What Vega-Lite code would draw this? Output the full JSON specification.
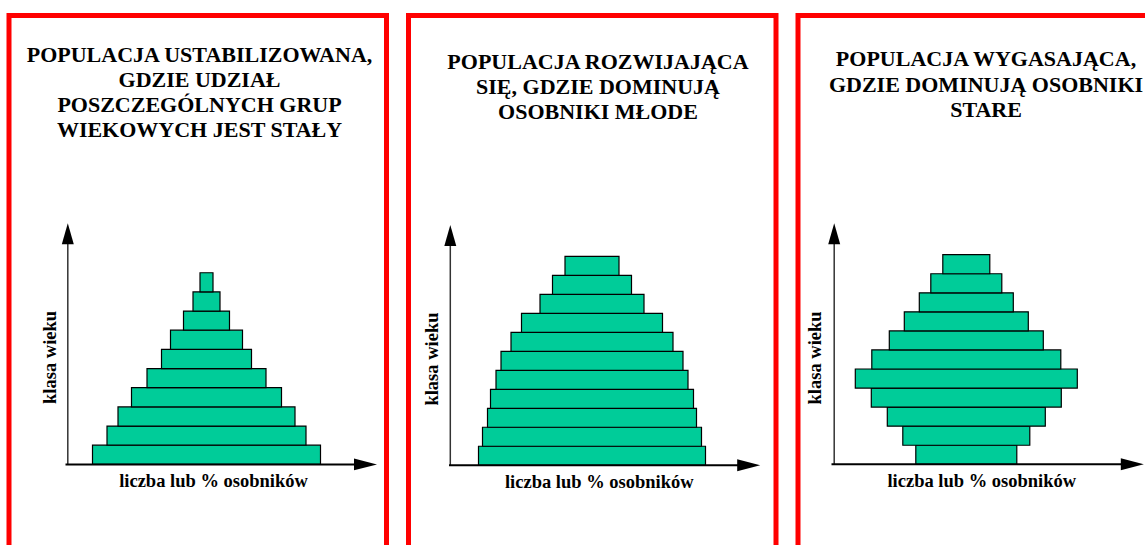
{
  "$schema": "https://vega.github.io/schema/vega-lite/v6.json",
  "background": "white",
  "padding": {"left": 6, "top": 12.5, "right": 0, "bottom": 0},
  "spacing": 16.5,
  "config": {
    "view": {"stroke": "#ff0000", "strokeWidth": 5, "fill": "white"},
    "axis": {"disable": true}
  },
  "datasets": {
    "ustabilizowana": [
      {"od": 0, "do": 1, "liczba": 228},
      {"od": 1, "do": 2, "liczba": 199},
      {"od": 2, "do": 3, "liczba": 177},
      {"od": 3, "do": 4, "liczba": 150},
      {"od": 4, "do": 5, "liczba": 119},
      {"od": 5, "do": 6, "liczba": 90},
      {"od": 6, "do": 7, "liczba": 72},
      {"od": 7, "do": 8, "liczba": 46},
      {"od": 8, "do": 9, "liczba": 27},
      {"od": 9, "do": 10, "liczba": 13}
    ],
    "rozwijajaca": [
      {"od": 0, "do": 1, "liczba": 227},
      {"od": 1, "do": 2, "liczba": 219},
      {"od": 2, "do": 3, "liczba": 209},
      {"od": 3, "do": 4, "liczba": 203},
      {"od": 4, "do": 5, "liczba": 192},
      {"od": 5, "do": 6, "liczba": 182},
      {"od": 6, "do": 7, "liczba": 162},
      {"od": 7, "do": 8, "liczba": 141},
      {"od": 8, "do": 9, "liczba": 104},
      {"od": 9, "do": 10, "liczba": 79},
      {"od": 10, "do": 11, "liczba": 54}
    ],
    "wygasajaca": [
      {"od": 0, "do": 1, "liczba": 101},
      {"od": 1, "do": 2, "liczba": 127},
      {"od": 2, "do": 3, "liczba": 158},
      {"od": 3, "do": 4, "liczba": 190},
      {"od": 4, "do": 5, "liczba": 222},
      {"od": 5, "do": 6, "liczba": 189},
      {"od": 6, "do": 7, "liczba": 154},
      {"od": 7, "do": 8, "liczba": 124},
      {"od": 8, "do": 9, "liczba": 94},
      {"od": 9, "do": 10, "liczba": 71},
      {"od": 10, "do": 11, "liczba": 47}
    ],
    "jeden": [{}]
  },
  "hconcat": [
    {
      "width": 377.5,
      "height": 534,
      "layer": [
        {
          "data": {"name": "ustabilizowana"},
          "mark": {"type": "bar", "orient": "horizontal", "fill": "#00cc99", "stroke": "black", "strokeWidth": 1.2},
          "encoding": {
            "x": {"field": "liczba", "type": "quantitative", "stack": "center", "axis": null, "scale": {"domain": [-83.5, 294], "nice": false, "zero": false}},
            "y": {"field": "od", "type": "quantitative", "axis": null, "scale": {"domain": [-4.18, 23.16], "nice": false, "zero": false}},
            "y2": {"field": "do"}
          }
        },
        {
          "data": {"name": "jeden"},
          "mark": {"type": "rule", "stroke": "#333333", "strokeWidth": 1.5},
          "encoding": {
            "x": {"datum": -24.7, "type": "quantitative", "scale": {"domain": [-83.5, 294], "nice": false, "zero": false}},
            "y": {"datum": 0, "type": "quantitative", "scale": {"domain": [-4.18, 23.16], "nice": false, "zero": false}},
            "y2": {"datum": 12}
          }
        },
        {
          "data": {"name": "jeden"},
          "mark": {"type": "rule", "stroke": "black", "strokeWidth": 2},
          "encoding": {
            "x": {"datum": -27, "type": "quantitative", "scale": {"domain": [-83.5, 294], "nice": false, "zero": false}},
            "x2": {"datum": 264},
            "y": {"datum": 0, "type": "quantitative", "scale": {"domain": [-4.18, 23.16], "nice": false, "zero": false}}
          }
        },
        {
          "data": {"name": "jeden"},
          "mark": {"type": "point", "shape": "M0,-1L0.57,1L-0.57,1Z", "size": 441, "filled": true, "color": "black", "opacity": 1},
          "encoding": {
            "x": {"datum": -24.7, "type": "quantitative", "scale": {"domain": [-83.5, 294], "nice": false, "zero": false}},
            "y": {"datum": 12.04, "type": "quantitative", "scale": {"domain": [-4.18, 23.16], "nice": false, "zero": false}}
          }
        },
        {
          "data": {"name": "jeden"},
          "mark": {"type": "point", "shape": "M1,0L-1,0.52L-1,-0.52Z", "size": 529, "filled": true, "color": "black", "opacity": 1},
          "encoding": {
            "x": {"datum": 273, "type": "quantitative", "scale": {"domain": [-83.5, 294], "nice": false, "zero": false}},
            "y": {"datum": 0, "type": "quantitative", "scale": {"domain": [-4.18, 23.16], "nice": false, "zero": false}}
          }
        },
        {
          "data": {"name": "jeden"},
          "mark": {"type": "text", "text": ["POPULACJA USTABILIZOWANA,", "GDZIE UDZIAŁ", "POSZCZEGÓLNYCH GRUP", "WIEKOWYCH JEST STAŁY"], "font": "Liberation Serif", "fontWeight": "bold", "color": "black", "fontSize": 22, "lineHeight": 25, "align": "center", "baseline": "alphabetic"},
          "encoding": {
            "x": {"datum": 107, "type": "quantitative", "scale": {"domain": [-83.5, 294], "nice": false, "zero": false}},
            "y": {"datum": 21.0, "type": "quantitative", "scale": {"domain": [-4.18, 23.16], "nice": false, "zero": false}}
          }
        },
        {
          "data": {"name": "jeden"},
          "mark": {"type": "text", "text": "liczba lub % osobników", "font": "Liberation Serif", "fontWeight": "bold", "color": "black", "fontSize": 18.5, "align": "center", "baseline": "alphabetic"},
          "encoding": {
            "x": {"datum": 121, "type": "quantitative", "scale": {"domain": [-83.5, 294], "nice": false, "zero": false}},
            "y": {"datum": -1.16, "type": "quantitative", "scale": {"domain": [-4.18, 23.16], "nice": false, "zero": false}}
          }
        },
        {
          "data": {"name": "jeden"},
          "mark": {"type": "text", "text": "klasa wieku", "font": "Liberation Serif", "fontWeight": "bold", "color": "black", "fontSize": 18.5, "align": "center", "baseline": "middle", "angle": 270},
          "encoding": {
            "x": {"datum": -43, "type": "quantitative", "scale": {"domain": [-83.5, 294], "nice": false, "zero": false}},
            "y": {"datum": 5.58, "type": "quantitative", "scale": {"domain": [-4.18, 23.16], "nice": false, "zero": false}}
          }
        }
      ]
    },
    {
      "width": 367.5,
      "height": 534,
      "layer": [
        {
          "data": {"name": "rozwijajaca"},
          "mark": {"type": "bar", "orient": "horizontal", "fill": "#00cc99", "stroke": "black", "strokeWidth": 1.2},
          "encoding": {
            "x": {"field": "liczba", "type": "quantitative", "stack": "center", "axis": null, "scale": {"domain": [-70, 297.5], "nice": false, "zero": false}},
            "y": {"field": "od", "type": "quantitative", "axis": null, "scale": {"domain": [-4.17, 23.41], "nice": false, "zero": false}},
            "y2": {"field": "do"}
          }
        },
        {
          "data": {"name": "jeden"},
          "mark": {"type": "rule", "stroke": "#333333", "strokeWidth": 1.5},
          "encoding": {
            "x": {"datum": -28.2, "type": "quantitative", "scale": {"domain": [-70, 297.5], "nice": false, "zero": false}},
            "y": {"datum": 0, "type": "quantitative", "scale": {"domain": [-4.17, 23.41], "nice": false, "zero": false}},
            "y2": {"datum": 12}
          }
        },
        {
          "data": {"name": "jeden"},
          "mark": {"type": "rule", "stroke": "black", "strokeWidth": 2},
          "encoding": {
            "x": {"datum": -29.5, "type": "quantitative", "scale": {"domain": [-70, 297.5], "nice": false, "zero": false}},
            "x2": {"datum": 259.5},
            "y": {"datum": 0, "type": "quantitative", "scale": {"domain": [-4.17, 23.41], "nice": false, "zero": false}}
          }
        },
        {
          "data": {"name": "jeden"},
          "mark": {"type": "point", "shape": "M0,-1L0.57,1L-0.57,1Z", "size": 441, "filled": true, "color": "black", "opacity": 1},
          "encoding": {
            "x": {"datum": -28.2, "type": "quantitative", "scale": {"domain": [-70, 297.5], "nice": false, "zero": false}},
            "y": {"datum": 12.09, "type": "quantitative", "scale": {"domain": [-4.17, 23.41], "nice": false, "zero": false}}
          }
        },
        {
          "data": {"name": "jeden"},
          "mark": {"type": "point", "shape": "M1,0L-1,0.52L-1,-0.52Z", "size": 529, "filled": true, "color": "black", "opacity": 1},
          "encoding": {
            "x": {"datum": 270.2, "type": "quantitative", "scale": {"domain": [-70, 297.5], "nice": false, "zero": false}},
            "y": {"datum": 0, "type": "quantitative", "scale": {"domain": [-4.17, 23.41], "nice": false, "zero": false}}
          }
        },
        {
          "data": {"name": "jeden"},
          "mark": {"type": "text", "text": ["POPULACJA ROZWIJAJĄCA", "SIĘ, GDZIE DOMINUJĄ", "OSOBNIKI MŁODE"], "font": "Liberation Serif", "fontWeight": "bold", "color": "black", "fontSize": 22, "lineHeight": 25, "align": "center", "baseline": "alphabetic"},
          "encoding": {
            "x": {"datum": 119.5, "type": "quantitative", "scale": {"domain": [-70, 297.5], "nice": false, "zero": false}},
            "y": {"datum": 20.85, "type": "quantitative", "scale": {"domain": [-4.17, 23.41], "nice": false, "zero": false}}
          }
        },
        {
          "data": {"name": "jeden"},
          "mark": {"type": "text", "text": "liczba lub % osobników", "font": "Liberation Serif", "fontWeight": "bold", "color": "black", "fontSize": 18.5, "align": "center", "baseline": "alphabetic"},
          "encoding": {
            "x": {"datum": 120.8, "type": "quantitative", "scale": {"domain": [-70, 297.5], "nice": false, "zero": false}},
            "y": {"datum": -1.21, "type": "quantitative", "scale": {"domain": [-4.17, 23.41], "nice": false, "zero": false}}
          }
        },
        {
          "data": {"name": "jeden"},
          "mark": {"type": "text", "text": "klasa wieku", "font": "Liberation Serif", "fontWeight": "bold", "color": "black", "fontSize": 18.5, "align": "center", "baseline": "middle", "angle": 270},
          "encoding": {
            "x": {"datum": -46.5, "type": "quantitative", "scale": {"domain": [-70, 297.5], "nice": false, "zero": false}},
            "y": {"datum": 5.59, "type": "quantitative", "scale": {"domain": [-4.17, 23.41], "nice": false, "zero": false}}
          }
        }
      ]
    },
    {
      "width": 353.5,
      "height": 534,
      "layer": [
        {
          "data": {"name": "wygasajaca"},
          "mark": {"type": "bar", "orient": "horizontal", "fill": "#00cc99", "stroke": "black", "strokeWidth": 1.2},
          "encoding": {
            "x": {"field": "liczba", "type": "quantitative", "stack": "center", "axis": null, "scale": {"domain": [-57.3, 296.2], "nice": false, "zero": false}},
            "y": {"field": "od", "type": "quantitative", "axis": null, "scale": {"domain": [-4.21, 23.29], "nice": false, "zero": false}},
            "y2": {"field": "do"}
          }
        },
        {
          "data": {"name": "jeden"},
          "mark": {"type": "rule", "stroke": "#333333", "strokeWidth": 1.5},
          "encoding": {
            "x": {"datum": -21.1, "type": "quantitative", "scale": {"domain": [-57.3, 296.2], "nice": false, "zero": false}},
            "y": {"datum": 0, "type": "quantitative", "scale": {"domain": [-4.21, 23.29], "nice": false, "zero": false}},
            "y2": {"datum": 12}
          }
        },
        {
          "data": {"name": "jeden"},
          "mark": {"type": "rule", "stroke": "black", "strokeWidth": 2},
          "encoding": {
            "x": {"datum": -23.8, "type": "quantitative", "scale": {"domain": [-57.3, 296.2], "nice": false, "zero": false}},
            "x2": {"datum": 267},
            "y": {"datum": 0, "type": "quantitative", "scale": {"domain": [-4.21, 23.29], "nice": false, "zero": false}}
          }
        },
        {
          "data": {"name": "jeden"},
          "mark": {"type": "point", "shape": "M0,-1L0.57,1L-0.57,1Z", "size": 441, "filled": true, "color": "black", "opacity": 1},
          "encoding": {
            "x": {"datum": -21.1, "type": "quantitative", "scale": {"domain": [-57.3, 296.2], "nice": false, "zero": false}},
            "y": {"datum": 12.1, "type": "quantitative", "scale": {"domain": [-4.21, 23.29], "nice": false, "zero": false}}
          }
        },
        {
          "data": {"name": "jeden"},
          "mark": {"type": "point", "shape": "M1,0L-1,0.52L-1,-0.52Z", "size": 529, "filled": true, "color": "black", "opacity": 1},
          "encoding": {
            "x": {"datum": 277, "type": "quantitative", "scale": {"domain": [-57.3, 296.2], "nice": false, "zero": false}},
            "y": {"datum": 0, "type": "quantitative", "scale": {"domain": [-4.21, 23.29], "nice": false, "zero": false}}
          }
        },
        {
          "data": {"name": "jeden"},
          "mark": {"type": "text", "text": ["POPULACJA WYGASAJĄCA,", "GDZIE DOMINUJĄ OSOBNIKI", "STARE"], "font": "Liberation Serif", "fontWeight": "bold", "color": "black", "fontSize": 22, "lineHeight": 25.5, "align": "center", "baseline": "alphabetic"},
          "encoding": {
            "x": {"datum": 130.7, "type": "quantitative", "scale": {"domain": [-57.3, 296.2], "nice": false, "zero": false}},
            "y": {"datum": 20.9, "type": "quantitative", "scale": {"domain": [-4.21, 23.29], "nice": false, "zero": false}}
          }
        },
        {
          "data": {"name": "jeden"},
          "mark": {"type": "text", "text": "liczba lub % osobników", "font": "Liberation Serif", "fontWeight": "bold", "color": "black", "fontSize": 18.5, "align": "center", "baseline": "alphabetic"},
          "encoding": {
            "x": {"datum": 126.5, "type": "quantitative", "scale": {"domain": [-57.3, 296.2], "nice": false, "zero": false}},
            "y": {"datum": -1.17, "type": "quantitative", "scale": {"domain": [-4.21, 23.29], "nice": false, "zero": false}}
          }
        },
        {
          "data": {"name": "jeden"},
          "mark": {"type": "text", "text": "klasa wieku", "font": "Liberation Serif", "fontWeight": "bold", "color": "black", "fontSize": 18.5, "align": "center", "baseline": "middle", "angle": 270},
          "encoding": {
            "x": {"datum": -40.1, "type": "quantitative", "scale": {"domain": [-57.3, 296.2], "nice": false, "zero": false}},
            "y": {"datum": 5.58, "type": "quantitative", "scale": {"domain": [-4.21, 23.29], "nice": false, "zero": false}}
          }
        }
      ]
    }
  ]
}
